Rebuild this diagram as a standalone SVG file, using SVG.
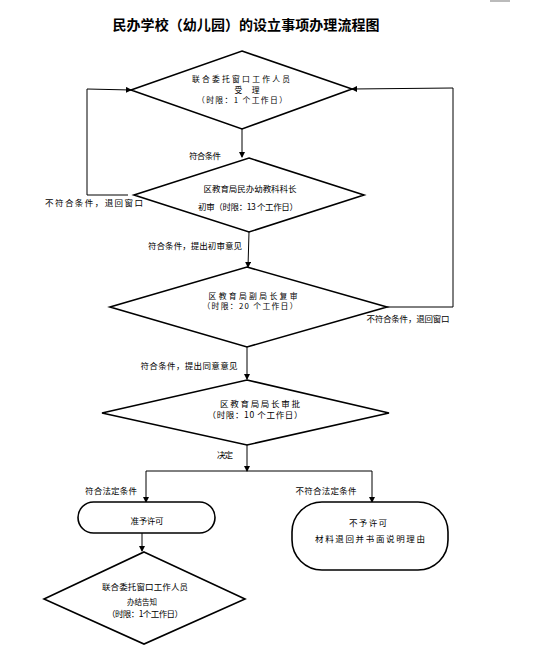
<svg xmlns="http://www.w3.org/2000/svg" width="556" height="651" viewBox="0 0 556 651">
<defs>
<marker id="ah" markerWidth="6" markerHeight="6" refX="5" refY="3" orient="auto" markerUnits="userSpaceOnUse">
<path d="M0,0 L6,3 L0,6 Z" fill="#000"/>
</marker>
<style>
.shape{fill:#fff;stroke:#000;stroke-width:1.6}
.conn{fill:none;stroke:#000;stroke-width:1}
text{font-family:"Noto Sans CJK SC","Noto Sans",sans-serif;font-size:8.5px;fill:#000;text-anchor:middle}
.title{font-size:14px;font-weight:bold}
.lbl{font-size:8.5px}
.sm{font-size:7.8px}
</style>
</defs>
<rect width="556" height="651" fill="#fff"/>
<rect x="490" y="0" width="20" height="2" fill="#bbb"/>
<text class="title" x="246" y="30" textLength="267" lengthAdjust="spacing">民办学校（幼儿园）的设立事项办理流程图</text>

<g id="connectors">
<line class="conn" x1="242" y1="129" x2="242" y2="157" marker-end="url(#ah)"/>
<polyline class="conn" points="128,195 87,195 87,89 131,90" marker-end="url(#ah)"/>
<line class="conn" x1="249" y1="232" x2="248" y2="267" marker-end="url(#ah)"/>
<polyline class="conn" points="387,307 453,307 453,88 352,89" marker-end="url(#ah)"/>
<line class="conn" x1="247" y1="347" x2="247" y2="379" marker-end="url(#ah)"/>
<line class="conn" x1="247" y1="445" x2="247" y2="471" marker-end="url(#ah)"/>
<line class="conn" x1="146" y1="471" x2="372" y2="471"/>
<line class="conn" x1="146" y1="471" x2="146" y2="502" marker-end="url(#ah)"/>
<line class="conn" x1="372" y1="471" x2="372" y2="502" marker-end="url(#ah)"/>
<line class="conn" x1="142" y1="533" x2="142" y2="551" marker-end="url(#ah)"/>
<text class="lbl" x="205" y="159" textLength="32" lengthAdjust="spacing">符合条件</text>
<text class="lbl" x="94" y="206" textLength="98" lengthAdjust="spacing">不符合条件，退回窗口</text>
<text class="lbl" x="195" y="249" textLength="94" lengthAdjust="spacing">符合条件，提出初审意见</text>
<text class="lbl" x="408" y="322" textLength="83" lengthAdjust="spacing">不符合条件，退回窗口</text>
<text class="lbl" x="189" y="369" textLength="97" lengthAdjust="spacing">符合条件，提出同意意见</text>
<text class="lbl" x="225" y="458" textLength="16" lengthAdjust="spacing">决定</text>
<text class="lbl" x="111" y="494" textLength="52" lengthAdjust="spacing">符合法定条件</text>
<text class="lbl" x="326" y="494" textLength="61" lengthAdjust="spacing">不符合法定条件</text>
</g>

<g id="n1">
<polygon class="shape" points="242,51 352,89 242,129 131,90"/>
<text class="sm" x="241" y="82" textLength="98" lengthAdjust="spacing">联合委托窗口工作人员</text>
<text class="sm" x="247" y="92.5" textLength="25" lengthAdjust="spacing">受理</text>
<text class="sm" x="242" y="103" textLength="90" lengthAdjust="spacing">（时限：1 个工作日）</text>
</g>

<g id="n2">
<polygon class="shape" points="249,158 364,195 249,232 134,195"/>
<text x="250" y="192" textLength="93" lengthAdjust="spacing">区教育局民办幼教科科长</text>
<text x="248" y="210" textLength="100" lengthAdjust="spacing">初审（时限：13 个工作日）</text>
</g>

<g id="n3">
<polygon class="shape" points="247,267 387,307 247,347 110,307"/>
<text class="sm" x="253" y="299" textLength="89" lengthAdjust="spacing">区教育局副局长复审</text>
<text class="sm" x="250" y="309" textLength="95" lengthAdjust="spacing">（时限：20 个工作日）</text>
</g>

<g id="n4">
<polygon class="shape" points="247,380 389,413 247,445 102,413"/>
<text x="260" y="407" textLength="80" lengthAdjust="spacing">区教育局局长审批</text>
<text x="255" y="418" textLength="95" lengthAdjust="spacing">（时限：10 个工作日）</text>
</g>

<g id="n5">
<rect class="shape" x="78" y="502" width="137" height="31" rx="15.5" ry="15.5"/>
<text x="147" y="524" textLength="33" lengthAdjust="spacing">准予许可</text>
</g>

<g id="n6">
<rect class="shape" x="292" y="502" width="156" height="68" rx="30" ry="30"/>
<text x="368" y="526" textLength="38" lengthAdjust="spacing">不予许可</text>
<text x="370" y="542" textLength="110" lengthAdjust="spacing">材料退回并书面说明理由</text>
</g>

<g id="n7">
<polygon class="shape" points="144,552 245,599 144,644 44,599"/>
<text x="145" y="590" textLength="86" lengthAdjust="spacing">联合委托窗口工作人员</text>
<text x="142" y="605" style="font-size:7.5px">办结告知</text>
<text x="145" y="617" textLength="76" lengthAdjust="spacing">（时限：1个工作日）</text>
</g>
</svg>
